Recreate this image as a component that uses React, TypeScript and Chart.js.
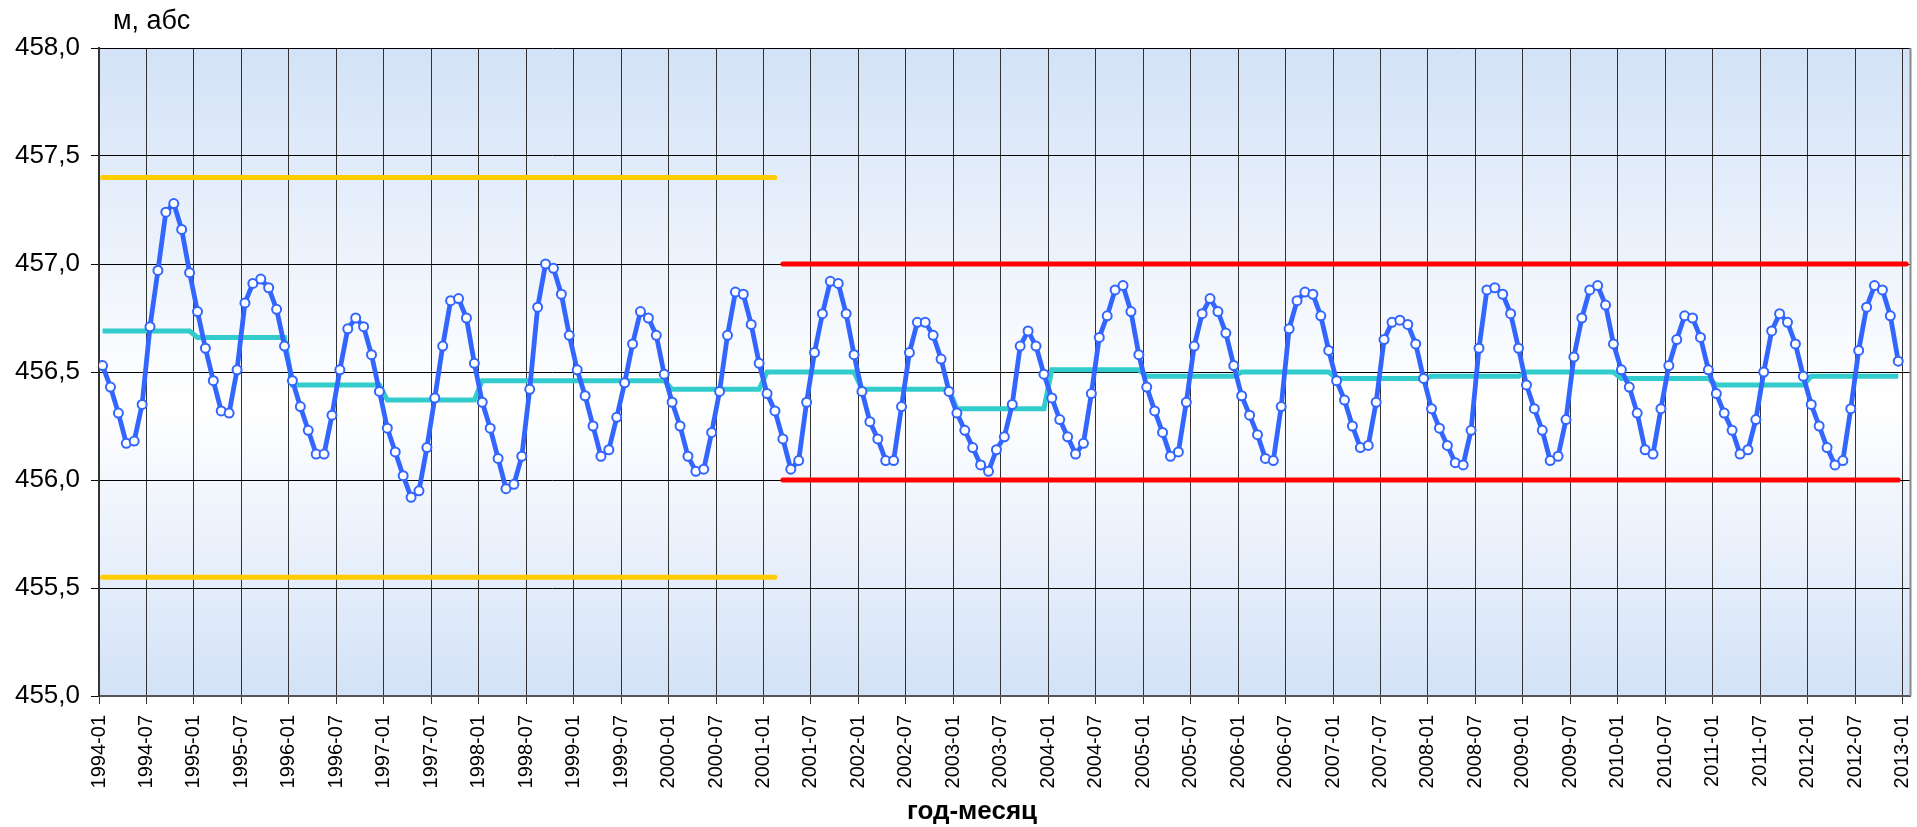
import React, { useEffect, useRef } from "react";
import { Chart, registerables } from "chart.js";

Chart.register(...registerables);

// Monthly water level, 1994-01 .. 2012-12 (m abs)
const levels: number[] = [
  456.53, 456.43, 456.31, 456.17, 456.18, 456.35, 456.71, 456.97, 457.24, 457.28, 457.16, 456.96,
  456.78, 456.61, 456.46, 456.32, 456.31, 456.51, 456.82, 456.91, 456.93, 456.89, 456.79, 456.62,
  456.46, 456.34, 456.23, 456.12, 456.12, 456.30, 456.51, 456.70, 456.75, 456.71, 456.58, 456.41,
  456.24, 456.13, 456.02, 455.92, 455.95, 456.15, 456.38, 456.62, 456.83, 456.84, 456.75, 456.54,
  456.36, 456.24, 456.10, 455.96, 455.98, 456.11, 456.42, 456.80, 457.00, 456.98, 456.86, 456.67,
  456.51, 456.39, 456.25, 456.11, 456.14, 456.29, 456.45, 456.63, 456.78, 456.75, 456.67, 456.49,
  456.36, 456.25, 456.11, 456.04, 456.05, 456.22, 456.41, 456.67, 456.87, 456.86, 456.72, 456.54,
  456.40, 456.32, 456.19, 456.05, 456.09, 456.36, 456.59, 456.77, 456.92, 456.91, 456.77, 456.58,
  456.41, 456.27, 456.19, 456.09, 456.09, 456.34, 456.59, 456.73, 456.73, 456.67, 456.56, 456.41,
  456.31, 456.23, 456.15, 456.07, 456.04, 456.14, 456.20, 456.35, 456.62, 456.69, 456.62, 456.49,
  456.38, 456.28, 456.20, 456.12, 456.17, 456.40, 456.66, 456.76, 456.88, 456.90, 456.78, 456.58,
  456.43, 456.32, 456.22, 456.11, 456.13, 456.36, 456.62, 456.77, 456.84, 456.78, 456.68, 456.53,
  456.39, 456.30, 456.21, 456.10, 456.09, 456.34, 456.70, 456.83, 456.87, 456.86, 456.76, 456.60,
  456.46, 456.37, 456.25, 456.15, 456.16, 456.36, 456.65, 456.73, 456.74, 456.72, 456.63, 456.47,
  456.33, 456.24, 456.16, 456.08, 456.07, 456.23, 456.61, 456.88, 456.89, 456.86, 456.77, 456.61,
  456.44, 456.33, 456.23, 456.09, 456.11, 456.28, 456.57, 456.75, 456.88, 456.90, 456.81, 456.63,
  456.51, 456.43, 456.31, 456.14, 456.12, 456.33, 456.53, 456.65, 456.76, 456.75, 456.66, 456.51,
  456.40, 456.31, 456.23, 456.12, 456.14, 456.28, 456.50, 456.69, 456.77, 456.73, 456.63, 456.48,
  456.35, 456.25, 456.15, 456.07, 456.09, 456.33, 456.60, 456.80, 456.90, 456.88, 456.76, 456.55,
];

// Annual mean level, 1994 .. 2012
const annualMeans: number[] = [
  456.69, 456.66, 456.44, 456.37, 456.46, 456.46, 456.42, 456.50, 456.42, 456.33,
  456.51, 456.48, 456.50, 456.47, 456.48, 456.50, 456.47, 456.44, 456.48,
];

// Limit lines: [value, first month index, last month index]
const yellowUpper = [457.4, 0, 85];
const yellowLower = [455.55, 0, 85];
const redUpper = [457.0, 86, 228];
const redLower = [456.0, 86, 227];

const xTickLabels: string[] = [
  "1994-01", "1994-07", "1995-01", "1995-07", "1996-01", "1996-07", "1997-01", "1997-07",
  "1998-01", "1998-07", "1999-01", "1999-07", "2000-01", "2000-07", "2001-01", "2001-07",
  "2002-01", "2002-07", "2003-01", "2003-07", "2004-01", "2004-07", "2005-01", "2005-07",
  "2006-01", "2006-07", "2007-01", "2007-07", "2008-01", "2008-07", "2009-01", "2009-07",
  "2010-01", "2010-07", "2011-01", "2011-07", "2012-01", "2012-07", "2013-01",
];
const yTickValues: number[] = [455.0, 455.5, 456.0, 456.5, 457.0, 457.5, 458.0];

const MID = 0.45; // mid-month offset on the date axis
const FONT = '"Liberation Sans", Arial, sans-serif';

const limitLine = (spec: number[]) => [
  { x: spec[1] + MID, y: spec[0] },
  { x: spec[2] + MID, y: spec[0] },
];

const decorPlugin = {
  id: "decor",
  beforeDraw(chart: any) {
    const { ctx, chartArea: a } = chart;
    const g = ctx.createLinearGradient(0, a.top, 0, a.bottom);
    g.addColorStop(0, "#d3e2f7");
    g.addColorStop(0.55, "#ffffff");
    g.addColorStop(1, "#d3e2f7");
    ctx.save();
    ctx.fillStyle = g;
    ctx.fillRect(a.left, a.top, a.right - a.left, a.bottom - a.top);
    ctx.restore();
  },
  afterDraw(chart: any) {
    const { ctx, chartArea: a } = chart;
    ctx.save();
    ctx.strokeStyle = "#8a8a8a";
    ctx.lineWidth = 2;
    ctx.beginPath();
    ctx.moveTo(a.right, a.top);
    ctx.lineTo(a.right, a.bottom);
    ctx.stroke();
    ctx.fillStyle = "#000";
    ctx.textBaseline = "middle";
    ctx.textAlign = "left";
    ctx.font = `27px ${FONT}`;
    ctx.fillText("м, абс", 113, 22);
    ctx.textAlign = "center";
    ctx.font = `bold 26px ${FONT}`;
    ctx.fillText("год-месяц", 972, 812);
    ctx.restore();
  },
};

export default function App() {
  const ref = useRef<HTMLCanvasElement | null>(null);

  useEffect(() => {
    if (!ref.current) return;
    const meanSeries = levels.map((_, i) => ({ x: i + MID, y: annualMeans[Math.floor(i / 12)] }));
    const levelSeries = levels.map((v, i) => ({ x: i + MID, y: v }));
    const limitStyle = (color: string) => ({
      borderColor: color,
      borderWidth: 5,
      pointRadius: 0,
      borderCapStyle: "round" as const,
      fill: false,
    });

    const chart = new Chart(ref.current, {
      type: "line",
      data: {
        datasets: [
          {
            label: "level",
            data: levelSeries,
            borderColor: "#3366ff",
            borderWidth: 4.8,
            pointRadius: 4.5,
            pointBorderWidth: 2,
            pointBackgroundColor: "#ffffff",
            pointBorderColor: "#3366ff",
            tension: 0,
            fill: false,
          },
          {
            label: "mean",
            data: meanSeries,
            borderColor: "#33cccc",
            borderWidth: 5,
            pointRadius: 0,
            tension: 0,
            fill: false,
          },
          { label: "yu", data: limitLine(yellowUpper), ...limitStyle("#ffcc00") },
          { label: "yl", data: limitLine(yellowLower), ...limitStyle("#ffcc00") },
          { label: "ru", data: limitLine(redUpper), ...limitStyle("#ff0000") },
          { label: "rl", data: limitLine(redLower), ...limitStyle("#ff0000") },
        ] as any,
      },
      options: {
        responsive: false,
        animation: false,
        layout: { padding: { top: 48, right: 5, bottom: 0, left: 0 } },
        plugins: { legend: { display: false }, tooltip: { enabled: false }, title: { display: false } },
        scales: {
          x: {
            type: "linear",
            min: 0,
            max: 229,
            afterBuildTicks: (s: any) => {
              s.ticks = xTickLabels.map((_, k) => ({ value: k * 6 }));
            },
            afterFit: (s: any) => {
              s.height = 131;
              s.paddingLeft = 0;
              s.paddingRight = 0;
            },
            ticks: {
              autoSkip: false,
              minRotation: 90,
              maxRotation: 90,
              padding: 11,
              color: "#000",
              font: { family: FONT, size: 20 },
              callback: (_v: any, i: number) => xTickLabels[i],
            },
            grid: { color: "#333333", lineWidth: 1, tickLength: 8, drawTicks: true },
            border: { color: "#555555", width: 2 },
          },
          y: {
            min: 455,
            max: 458,
            afterBuildTicks: (s: any) => {
              s.ticks = yTickValues.map((v) => ({ value: v }));
            },
            afterFit: (s: any) => {
              s.width = 99;
              s.paddingTop = 0;
              s.paddingBottom = 0;
            },
            ticks: {
              padding: 11,
              color: "#000",
              font: { family: FONT, size: 26 },
              callback: (v: any) => Number(v).toFixed(1).replace(".", ","),
            },
            grid: { color: "#000000", lineWidth: 1, tickLength: 8, drawTicks: true },
            border: { color: "#333333", width: 2 },
          },
        },
      } as any,
      plugins: [decorPlugin],
    });
    return () => chart.destroy();
  }, []);

  return (
    <div style={{ position: "fixed", left: 0, top: 0, width: 1917, height: 827, background: "#fff" }}>
      <canvas ref={ref} width={1917} height={827} style={{ width: 1917, height: 827 }} />
    </div>
  );
}
